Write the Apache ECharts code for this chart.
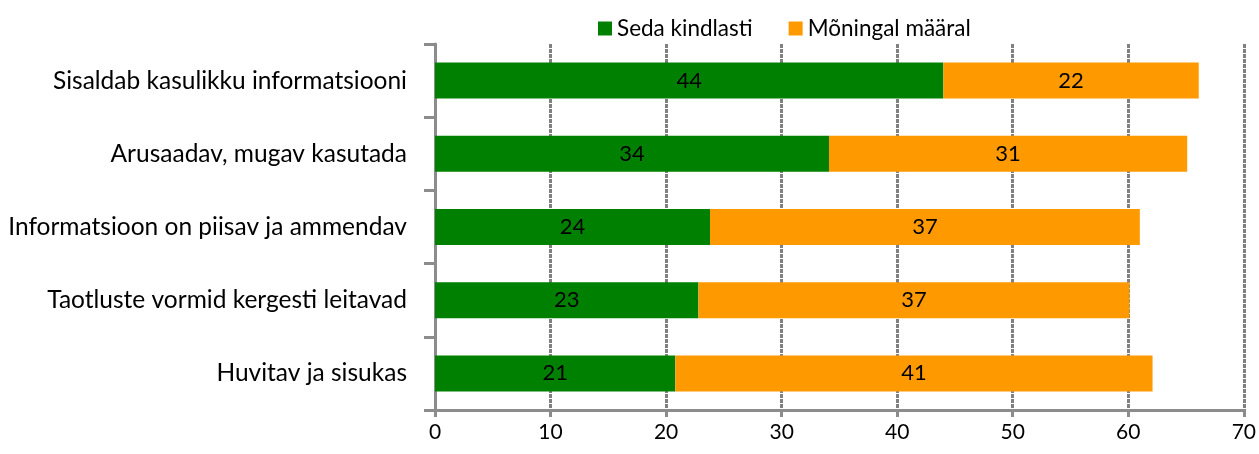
<!DOCTYPE html>
<html>
<head>
<meta charset="utf-8">
<script src="https://cdn.jsdelivr.net/npm/echarts@6/dist/echarts.min.js"></script>
<style>
  html, body { margin: 0; padding: 0; background: #fff; }
  #chart { width: 1259px; height: 454px; }
</style>
</head>
<body>
<div id="chart"></div>
<script>
const categories = [
  "Sisaldab kasulikku informatsiooni",
  "Arusaadav, mugav kasutada",
  "Informatsioon on piisav ja ammendav",
  "Taotluste vormid kergesti leitavad",
  "Huvitav ja sisukas"
];
const sedaKindlasti = [44.0, 34.1, 23.8, 22.8, 20.8];
const moningalMaaral = [22.1, 31.0, 37.2, 37.3, 41.3];
const xTicks = [0, 10, 20, 30, 40, 50, 60, 70];

const FONT = "Lato";
const axisGray = "#8c8c8c";

const chart = echarts.init(document.getElementById("chart"));

const barLabel = {
  show: true,
  position: "inside",
  color: "#000",
  fontFamily: FONT,
  fontSize: 22,
  formatter: (p) => Math.round(p.value)
};

chart.setOption({
  animation: false,
  backgroundColor: "#fff",
  textStyle: { fontFamily: FONT },

  legend: {
    left: 593,
    top: 12,
    itemWidth: 14,
    itemHeight: 14,
    itemGap: 36,
    icon: "rect",
    textStyle: { fontFamily: FONT, fontSize: 22.5, color: "#000" },
    data: ["Seda kindlasti", "Mõningal määral"]
  },

  grid: { left: 435, right: 14, top: 44, bottom: 44, containLabel: false },

  xAxis: {
    type: "value",
    min: xTicks[0],
    max: xTicks[xTicks.length - 1],
    interval: 10,
    axisLine: { show: true, lineStyle: { color: axisGray, width: 3 } },
    axisTick: { show: true, length: 7, lineStyle: { color: axisGray, width: 3 } },
    axisLabel: { color: "#000", fontFamily: FONT, fontSize: 21, margin: 12 },
    splitLine: {
      show: true,
      lineStyle: { color: "#808080", width: 3, type: [4, 1] }
    }
  },

  yAxis: {
    type: "category",
    inverse: true,
    data: categories,
    axisLine: { show: true, lineStyle: { color: axisGray, width: 3 } },
    axisTick: { show: true, length: 11, lineStyle: { color: axisGray, width: 3 } },
    axisLabel: { color: "#000", fontFamily: FONT, fontSize: 24.5, margin: 28 },
    splitLine: { show: false }
  },

  series: [
    {
      name: "Seda kindlasti",
      type: "bar",
      stack: "total",
      barWidth: 36,
      itemStyle: { color: "#008000" },
      label: barLabel,
      data: sedaKindlasti
    },
    {
      name: "Mõningal määral",
      type: "bar",
      stack: "total",
      barWidth: 36,
      itemStyle: { color: "#ff9900" },
      label: barLabel,
      data: moningalMaaral
    }
  ]
});

window.addEventListener("resize", () => chart.resize());
</script>
</body>
</html>
